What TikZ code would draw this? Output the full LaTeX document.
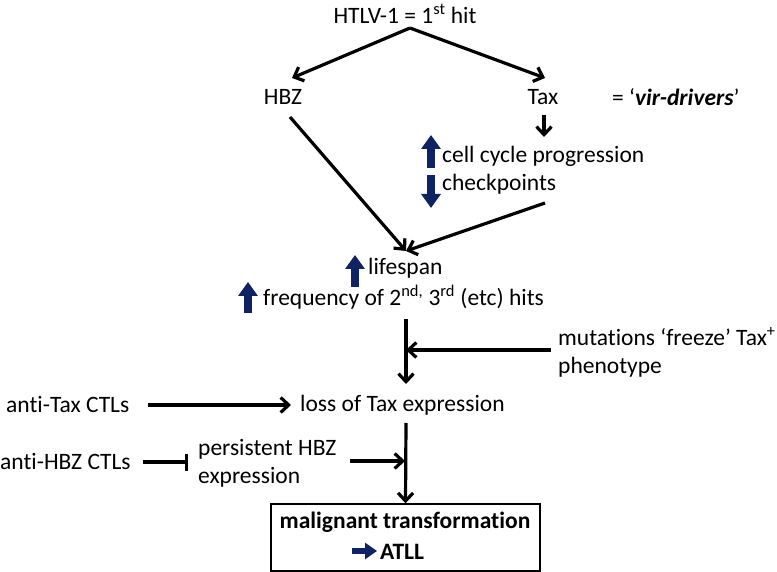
\documentclass[tikz,border=0pt]{standalone}
\usepackage{fontspec}
\setmainfont{Carlito}[Ligatures={NoCommon}]
\usetikzlibrary{arrows.meta}
\definecolor{navy}{HTML}{0F2362}
\tikzset{
  txt/.style={inner sep=0pt, font=\fontsize{23.5}{28}\selectfont},
  conn/.style={line width=3.2pt, -{Straight Barb[length=8pt,width=15pt,line width=3.2pt]}},
  inhib/.style={line width=3.2pt, -{Bar[width=17pt,line width=3.2pt]}},
  bluearrow/.style={navy, line width=7.5pt, -{Triangle[length=14pt,width=19pt]}},
}
\begin{document}
\begin{tikzpicture}[x=1pt,y=-1pt]
\useasboundingbox (0,0) rectangle (777,572);
% texts
\node[txt] (htlv) at (405,14) {HTLV-1 = 1\textsuperscript{st} hit};
\coordinate (apex) at (410,28);
\node[txt] (hbz) at (283,97) {HBZ};
\node[txt] (tax) at (543,97) {Tax};
\node[txt, anchor=west] (vir) at (612,97) {= ‘\textbf{\textit{vir-drivers}}’};
\node[txt, anchor=west] (ccp) at (442,156) {cell cycle progression};
\node[txt, anchor=west] (chk) at (442,184) {checkpoints};
\coordinate (meet) at (406,251);
\node[txt, anchor=west] (life) at (368,268) {lifespan};
\node[txt, anchor=west] (freq) at (263,297) {frequency of 2\textsuperscript{nd,} 3\textsuperscript{rd} (etc) hits};
\node[txt, anchor=west] (mut) at (558,337) {mutations ‘freeze’ Tax\textsuperscript{+}};
\node[txt, anchor=west] (phen) at (558,367) {phenotype};
\node[txt, anchor=west] (atax) at (6,405) {anti-Tax CTLs};
\node[txt, anchor=west] (loss) at (300,405) {loss of Tax expression};
\node[txt, anchor=west] (ahbz) at (0,462) {anti-HBZ CTLs};
\node[txt, anchor=west] (pers) at (198,449) {persistent HBZ};
\node[txt, anchor=west] (expr) at (198,477) {expression};
\node[draw, line width=1.4pt, minimum width=269pt, minimum height=67pt, inner sep=0pt] (box) at (405.5,537.5) {};
\node[txt, font=\fontsize{23.5}{28}\selectfont\bfseries] (malig) at (405,522) {malignant transformation};
\node[txt, font=\fontsize{23.5}{28}\selectfont\bfseries, anchor=west] (atll) at (380,552) {ATLL};
% coordinates for connectors
\coordinate (hbzL) at (292,78);
\coordinate (taxL) at (545,78);
\coordinate (taxS) at (544,115);
\coordinate (taxE) at (544,137);
\coordinate (hbzS) at (290,117);
\coordinate (chkS) at (545,203);
\coordinate (v1s) at (406,319);
\coordinate (v1e) at (406,384);
\coordinate (mutS) at (551,350);
\coordinate (mutE) at (406,350);
\coordinate (ataxE) at (291,405);
\coordinate (ataxS) at (148,405);
\coordinate (v2s) at (406,423);
\coordinate (ahbzS) at (143,462);
\coordinate (ahbzE) at (188,462);
\coordinate (persS) at (350,461);
\coordinate (persE) at (405,461);
% connectors
\draw[conn] (apex) -- (hbzL);
\draw[conn] (apex) -- (taxL);
\draw[conn] (taxS) -- (taxE);
\draw[conn] (hbzS) -- (meet);
\draw[conn] (chkS) -- (meet);
\draw[conn] (v1s) -- (v1e);
\draw[conn] (mutS) -- (mutE);
\draw[conn] (ataxS) -- (ataxE);
\draw[conn] (v2s) -- (box.north);
\draw[inhib] (ahbzS) -- (ahbzE);
\draw[conn] (persS) -- (persE);
% blue arrows
\draw[bluearrow] (431,168) -- (431,135);
\draw[bluearrow] (431,175) -- (431,208);
\draw[bluearrow] (355,287) -- (355,255);
\draw[bluearrow] (248,313) -- (248,282);
\draw[bluearrow, line width=6.5pt, -{Triangle[length=12pt,width=16pt]}] (352,551) -- (377,551);
\end{tikzpicture}
\end{document}
